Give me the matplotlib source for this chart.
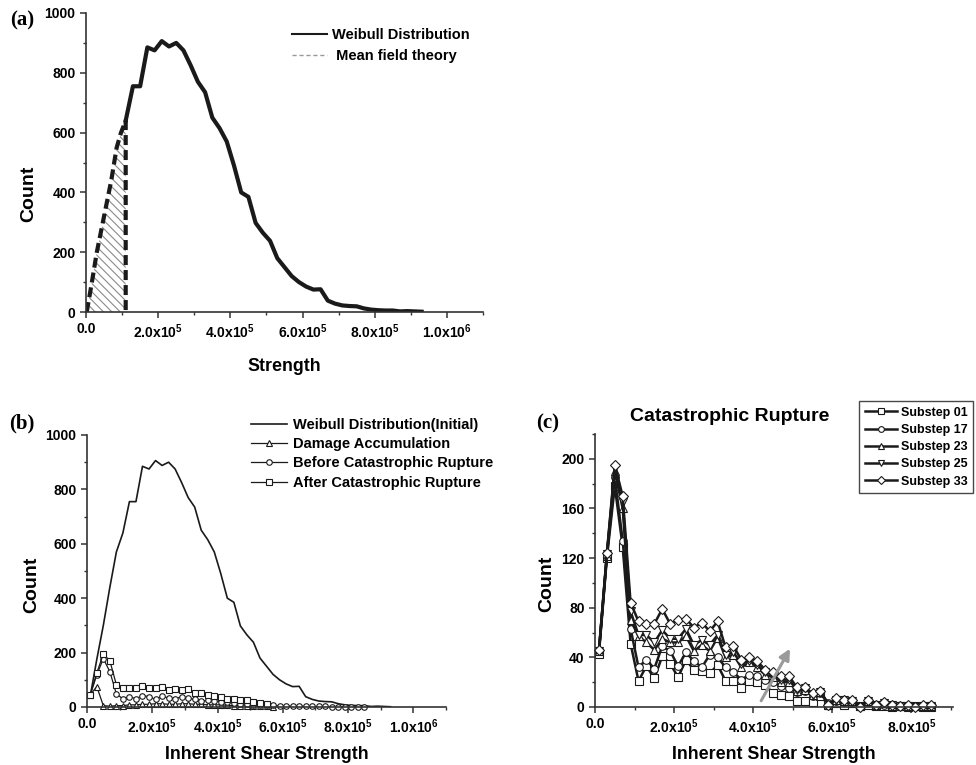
import numpy as np
import matplotlib.pyplot as plt
from matplotlib.lines import Line2D
from matplotlib.ticker import MultipleLocator, FuncFormatter

plt.rcParams['font.family'] = ['Liberation Sans', 'DejaVu Sans']
plt.rcParams['font.weight'] = 'bold'
plt.rcParams['mathtext.fontset'] = 'custom'
plt.rcParams['mathtext.rm'] = 'Liberation Sans:bold'
plt.rcParams['mathtext.bf'] = 'Liberation Sans:bold'
plt.rcParams['mathtext.default'] = 'rm'
plt.rcParams['hatch.linewidth'] = 0.8

# histogram bin centres (shear strength), 2e4 wide
strength = np.arange(1e4, 9.4e5, 2e4)

# initial Weibull distribution of element strengths
weibull = [40, 175, 300, 440, 570, 640, 755, 755, 885, 875, 906, 888, 900, 875,
           825, 770, 735, 650, 615, 570, 490, 400, 385, 298, 265, 238, 180, 150,
           120, 100, 85, 75, 76, 38, 28, 22, 20, 19, 12, 8, 6, 5, 5, 2, 3, 2, 1]

# mean field theory estimate of the failed part
mf_x = [2e3, 1.5e4, 3e4, 5e4, 7e4, 8.5e4, 9.7e4, 1.1e5, 1.1e5]
mf_y = [0, 90, 200, 320, 440, 550, 600, 640, 0]

# broken elements, panel (b)
damage = [45, 75, 5, 3, 5, 5, 8, 8, 10, 10, 12, 12, 10, 10, 12, 12, 10, 10, 8, 8,
          8, 6, 5, 5, 3, 3, 2, 2, 1]
before_rupture = [45, 118, 178, 130, 48, 30, 38, 30, 42, 38, 28, 40, 33, 30, 38,
                  32, 28, 22, 24, 22, 20, 17, 15, 12, 10, 9, 8, 6, 6, 5, 4, 3, 3,
                  3, 2, 2, 2, 1, 1, 1, 1, 1, 1]
after_rupture = [45, 125, 195, 170, 82, 69, 69, 69, 77, 70, 70, 72, 64, 68, 63, 68,
                 50, 50, 44, 42, 36, 30, 28, 26, 24, 20, 16, 12]

# substeps of the catastrophic rupture, panel (c)
sub01 = [43, 120, 178, 129, 51, 21, 33, 23, 41, 35, 24, 38, 30, 29, 27, 34, 21, 21,
         15, 21, 20, 18, 11, 10, 9, 5, 5, 4, 9, 2, 3, 2, 3, 1, 2, 1, 1, 0, 1, 0, 1, 0, 0]
sub17 = [45, 122, 185, 134, 63, 32, 38, 31, 49, 45, 33, 44, 37, 32, 42, 40, 32, 28,
         22, 26, 25, 22, 20, 17, 15, 12, 13, 9, 11, 3, 5, 4, 4, 1, 4, 2, 2, 1, 1, 1, 1, 1, 1]
sub23 = [45, 122, 190, 160, 70, 57, 52, 46, 55, 52, 52, 57, 45, 50, 45, 56, 40, 42,
         32, 36, 32, 26, 24, 20, 20, 13, 14, 10, 12, 2, 6, 5, 5, 1, 5, 2, 3, 1, 1, 1, 1, 1, 1]
sub25 = [45, 123, 193, 165, 77, 58, 58, 52, 62, 55, 55, 63, 50, 54, 50, 58, 42, 44,
         35, 37, 34, 28, 26, 22, 22, 14, 15, 10, 12, 2, 6, 6, 5, 0, 5, 2, 3, 2, 1, 1, 0, 1, 1]
sub33 = [46, 124, 195, 170, 84, 69, 67, 67, 79, 67, 70, 71, 64, 68, 61, 69, 48, 49,
         38, 40, 37, 30, 28, 25, 25, 16, 16, 11, 13, 2, 7, 6, 6, 0, 6, 2, 4, 2, 1, 2, 0, 2, 2]
substeps = [('Substep 01', sub01, 's'), ('Substep 17', sub17, 'o'),
            ('Substep 23', sub23, '^'), ('Substep 25', sub25, 'v'),
            ('Substep 33', sub33, 'D')]

INK = '#1a1a1a'
W, H = 976, 765


def sci_fmt(v, pos):
    if v == 0:
        return '0.0'
    e = int(np.floor(np.log10(abs(v)) + 1e-9))
    return f'{v / 10**e:.1f}x10$^{{{e}}}$'


def style(ax, xmax, ymax, ymaj, ylab_xy):
    for s in ('top', 'right'):
        ax.spines[s].set_visible(False)
    for s in ('left', 'bottom'):
        ax.spines[s].set_linewidth(1.2)
        ax.spines[s].set_color('#333333')
    ax.set_xlim(0, xmax)
    ax.set_ylim(0, ymax)
    ax.xaxis.set_major_locator(MultipleLocator(2e5))
    ax.xaxis.set_minor_locator(MultipleLocator(1e5))
    ax.yaxis.set_major_locator(MultipleLocator(ymaj))
    ax.yaxis.set_minor_locator(MultipleLocator(ymaj / 2))
    ax.xaxis.set_major_formatter(FuncFormatter(sci_fmt))
    ax.tick_params(which='major', length=4, width=1.1, labelsize=10, color='#333333')
    ax.tick_params(which='minor', length=2.5, width=1.0, color='#333333')
    ax.set_ylabel('Count', fontsize=14, fontweight='bold')
    ax.yaxis.set_label_coords(*ylab_xy)


def box(left, top, right, bottom):
    return [left / W, 1 - bottom / H, (right - left) / W, (bottom - top) / H]


fig = plt.figure(figsize=(9.76, 7.65), dpi=100)

# (a) Weibull distribution with the mean field part hatched
ax_a = fig.add_axes(box(86, 13, 483, 312))
style(ax_a, 1.1e6, 1000, 200, (-0.124, 0.395))
ax_a.fill_between(mf_x[:-1], mf_y[:-1], 0, hatch='\\\\\\\\', facecolor='none',
                  edgecolor='#8a8a8a', linewidth=0)
ax_a.plot(strength[5:], weibull[5:], color=INK, lw=3.0, solid_joinstyle='round')
ax_a.plot(mf_x, mf_y, color=INK, lw=3.0, dashes=(2.4, 1.2))
ax_a.set_xlabel('Strength', fontsize=12.8, fontweight='bold', labelpad=12)
ax_a.legend(handles=[Line2D([], [], color=INK, lw=1.5),
                     Line2D([], [], color='#999999', lw=1.0, ls=(0, (3, 2)))],
            labels=['Weibull Distribution', ' Mean field theory'],
            loc='upper left', bbox_to_anchor=(292 / W, 1 - 28 / H),
            bbox_transform=fig.transFigure, frameon=False, fontsize=10.5,
            handlelength=2.4, handletextpad=0.35, borderpad=0, borderaxespad=0,
            labelspacing=0.5)

# (b) distribution of broken elements at different stages
ax_b = fig.add_axes(box(87, 435, 446, 707))
style(ax_b, 1.1e6, 1000, 200, (-0.13, 0.449))
mk = dict(ms=4, mfc='white', mec=INK, mew=0.8, lw=0.9, color=INK, clip_on=False)
ax_b.plot(strength, weibull, color=INK, lw=1.2, label='Weibull Distribution(Initial)')
ax_b.plot(strength[:len(damage)], damage, marker='^', label='Damage Accumulation', **mk)
ax_b.plot(strength[:len(before_rupture)], before_rupture, marker='o',
          label='Before Catastrophic Rupture', **mk)
ax_b.plot(strength[:len(after_rupture)], after_rupture, marker='s',
          label='After Catastrophic Rupture', **mk)
ax_b.set_xlabel('Inherent Shear Strength', fontsize=12.8, fontweight='bold', labelpad=7)
ax_b.legend(loc='upper left', bbox_to_anchor=(251 / W, 1 - 418 / H),
            bbox_transform=fig.transFigure, frameon=False, fontsize=10.5,
            handlelength=2.5, handletextpad=0.35, borderpad=0, borderaxespad=0,
            labelspacing=0.36)

# (c) substeps of the catastrophic rupture
ax_c = fig.add_axes(box(595, 434, 953, 707))
style(ax_c, 9.05e5, 220, 40, (-0.112, 0.45))
for name, vals, m in substeps:
    ax_c.plot(strength[:len(vals)], vals, marker=m, ms=5.5 if m != 'D' else 5,
              mfc='white', mec=INK, mew=0.8, lw=1.8, color=INK, clip_on=False,
              label=name)
ax_c.annotate('', xy=(4.93e5, 47), xytext=(4.2e5, 5),
              arrowprops=dict(arrowstyle='-|>', color='#9a9a9a', lw=2.2,
                              mutation_scale=16, shrinkA=0, shrinkB=0))
ax_c.set_xlabel('Inherent Shear Strength', fontsize=12.8, fontweight='bold', labelpad=7)
ax_c.text(730 / W, 1 - 417 / H, 'Catastrophic Rupture', transform=fig.transFigure,
          ha='center', va='center', fontsize=14, fontweight='bold')
leg_c = ax_c.legend(loc='upper left', bbox_to_anchor=(859 / W, 1 - 401 / H),
                    bbox_transform=fig.transFigure, fontsize=9, fancybox=False,
                    handlelength=2.6, handletextpad=0.3, borderpad=0.45,
                    borderaxespad=0, labelspacing=0.42, markerscale=0.75)
leg_c.get_frame().set_edgecolor(INK)
leg_c.get_frame().set_linewidth(1.0)

# panel letters
for lbl, x, y in [('(a)', 22, 20), ('(b)', 22, 423), ('(c)', 548, 423)]:
    fig.text(x / W, 1 - y / H, lbl, ha='center', va='center', fontsize=15,
             fontweight='bold', family=['Liberation Serif', 'DejaVu Serif'])

fig.savefig('out.png', dpi=100)
